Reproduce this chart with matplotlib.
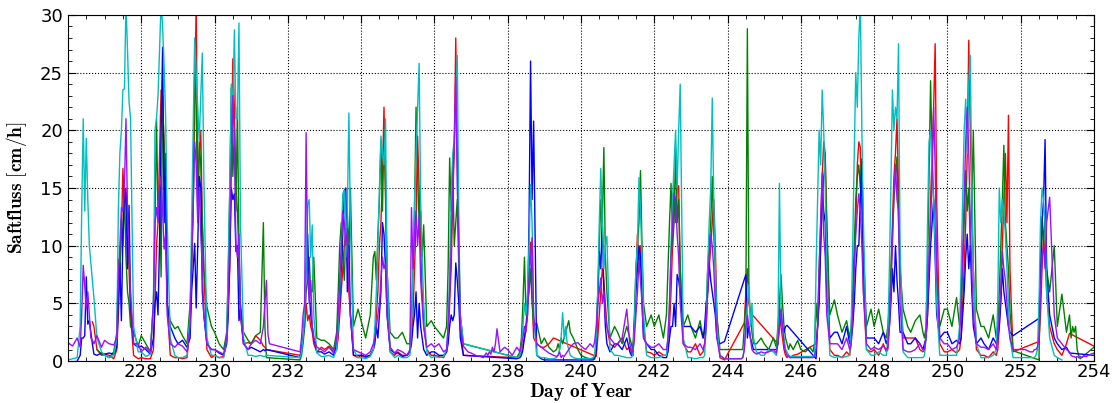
import numpy as np
import matplotlib
matplotlib.use("Agg")
import matplotlib.pyplot as plt
from matplotlib.ticker import MultipleLocator

plt.rcParams['mathtext.fontset'] = 'cm'

_ = None  # missing reading (logger gap)

# sampling hours within each day
HOURS = [0, 3, 6, 8, 9, 10, 11, 12, 13, 14, 15, 16, 17, 19, 22]
DAYS = list(range(226, 255))

# sap flux [cm/h], one row per day of year (226 ... 254)
RED = [
    [_, _, _, _, _, _, _, _, _, _, _, 3.4, 3.0, 1.0, 0.5],
    [0.6, 0.5, 0.2, 1, 4, 8, 11, 16.7, 13, 15, 12, 8, 4, 0.5, 0.2],
    [0.3, 0.2, 0.2, 1, 5, 10, 12, 18, 23.5, 22, 19, 12, 5, 0.5, 0.3],
    [0.3, 0.2, 0.3, 3, 8, 13, 22, 31, 13.5, 18, 20, 12, 8, 1, 0.3],
    [0.5, 0.3, 0.4, 2, 5, 8, 18, 26.2, 22, 15, 13, 9, 4, 1.5, 1.6],
    [1.5, 2.2, 1.8, 1.3, 1.2, 1.0, _, _, _, _, _, _, _, _, _],
    [_, _, _, 0.5, 1, 2, 3, 5, 3.5, 4, 3, 2.5, 1.5, 0.8, 1.2],
    [1, 1.3, 0.8, 1, 2, 4, 6, 8, 10, 11.5, 9, 6, 4, 0.5, 0.3],
    [0.5, 0.3, 0.5, 1, 2, 4, 6, 10, 12, 16, 22, 14, 6, 0.8, 0.5],
    [0.8, 0.5, 0.5, 0.8, 2, 4, 8, 12, 19.5, 15, 10, 6, 3, 1, 0.5],
    [0.5, 0.4, 0.3, 0.8, 2, 5, 8, 14, 18, 28, 18, 10, 3, 0.5, _],
    [_, _, _, _, _, _, _, _, _, _, _, _, _, _, _],
    [_, _, 0.3, 0.5, 0.8, 1.5, 2, 3, 5, 8, 10.3, 6, 2, 1.5, 1.2],
    [1.2, 1.5, 2, _, _, _, _, _, _, _, _, _, _, _, _],
    [_, _, _, _, _, 0.4, 2, 4, 6, 8, 7, 5, 3, 1.5, 1.2],
    [1.5, 2, 1, 1.2, 0.8, 0.5, 3, 7, 11, 8, 10, 6, 3, 0.8, 0.7],
    [0.5, 0.8, 0.5, 0.5, 1, 3, 6, 10, 15.2, 12, 15, 15.2, 8, 1.5, 0.8],
    [0.8, 1.5, 0.5, 0.8, 1.5, 3, 6, 8, 10, 12, 14, 10, 4, 0.3, 0.1],
    [_, _, _, _, _, _, 3.3, 6, 8, 5, 4.2, _, _, _, _],
    [_, _, _, _, 1.5, 5, 3, 2, 1, 0.5, 0.3, 0.5, 0.3, 0.5, 0.6],
    [_, _, _, _, _, 1.5, 3, 8, 12, 16, 19, 18, 12, 1, 0.5],
    [0.5, 0.3, 0.8, 0.5, 1.5, 4, 8, 12, 17, 19, 18.5, 13, 6, 1, 0.8],
    [1, 0.5, 1.5, 0.8, 1, 3, 7, 12, 16, 18, 21, 15, 8, 2, 2],
    [2, 2, 1, 0.8, 1, 2, 4, 8, 14, 18, 22, 27.5, 14, 1.5, 0.8],
    [0.8, 1, 0.7, 1, 2, 5, 8, 12, 18, 27.8, 20, 14, 8, 1, 0.5],
    [0.5, 0.3, 0.8, 0.5, 1, 3, 6, 10, 14, 18, 12, 21.3, 8, 0.8, _],
    [_, _, _, _, _, _, _, 1.7, 4, 8, 11, 9, 6, 3, 1.5],
    [1, 0.5, 1.5, 2.4, _, _, _, _, _, _, _, _, _, _, _],
    [1.3, _, _, _, _, _, _, _, _, _, _, _, _, _, _],
]

GREEN = [
    [_, _, _, _, _, _, _, _, _, _, _, _, _, 1.0, 0.6],
    [0.5, 0.3, 0.8, 2.5, 8.8, 7.5, 12.3, 10, 14.5, 9, 6, 5, 3, 2.5, 1.3],
    [2.2, 1.5, 0.8, 5, 12, 21, 12.5, 14.8, 7.3, 23, 18, 11.7, 5, 3.5, 2.8],
    [3, 2.2, 1.5, 5, 8.4, 15, 25, 22, 12.5, 19, 17, 12, 8, 4.7, 3],
    [2.5, 1.5, 1, 2.5, 8, 15, 23.7, 16, 20, 13, 22, 10, 5, 2.5, 1.8],
    [1.5, 2.2, 2.5, 12, 3, 0.3, _, _, _, _, _, _, _, _, _],
    [_, _, _, 0.1, 0.5, 1.5, 3, 6, 7, 9, 6, 6, 9, 2, 1.8],
    [1.8, 1.5, 1, 2.5, 6, 10, 12, 9, 7, 11, 13, 9, 15, 3, 4.5],
    [3.5, 2, 4, 9, 9.5, 7, 11, 14, 19, 13, 20, 15, 8, 2.5, 2],
    [2, 2.5, 1.5, 1.5, 4, 8, 13, 22, 16, 12, 13, 9, 11.8, 3, 3.5],
    [3, 2.5, 2, 3, 8, 17.6, 13, 17, 10, 12, 14, 8, 4, 1.5, _],
    [_, _, _, _, _, _, _, _, _, _, _, _, _, _, _],
    [_, _, 0.3, 0.8, 2, 5, 9, 4, 5, 6, 8, 5, 3, 3.3, 1.5],
    [2, 1.2, 0.8, 1, 1.5, 1, 2, 1.5, 2, 2.5, 3, 3.5, 2.5, 2, 1],
    [0.5, 0.3, 0.2, 0.2, 0.3, 2, 6, 10, 14, 12, 18.5, 9, 6, 2, 3],
    [2.5, 1.5, 3, 2, 1.5, 1, 4, 8, 10, 12, 16.5, 10, 5, 3, 4],
    [3, 4, 2, 4, 8, 12, 15.4, 10, 12, 18.5, 12, 14, 8, 3, 4],
    [3, 2, 3.5, 2, 2.5, 4, 8, 10, 12, 16, 11, 8, 4, 1, _],
    [_, _, _, _, _, 1, 3, 5, 28.8, 6, 4, 2.5, 1.5, 1.5, 2],
    [1.5, 1, 2, 1.2, 3, 5, 7.5, 5, 3, 2, 1.5, 1, 1.5, 1, 1.8],
    [1, 0.8, 1.2, 0.8, 1.5, 5, 3, 6, 10, 13, 16, 17, 12, 4, 5.3],
    [4, 2.5, 3.5, 2, 3, 6, 10, 14, 16, 17, 15, 17.5, 10, 3, 4.5],
    [3, 4.5, 2.5, 2, 3, 5, 8, 11, 14, 16, 17.7, 12, 8, 4.5, 3],
    [2.5, 3.5, 4, 2.5, 2, 3, 8, 16, 24.3, 18, 14, 11, 8, 3, 4.5],
    [4.5, 3, 5.5, 3, 4, 8, 12, 16.5, 13, 15, 10, 14, 20, 4.5, 3],
    [3, 2, 4, 2, 3, 6, 10, 14, 18.7, 12, 10, 8, 4.3, 0.9, _],
    [_, _, _, _, _, _, _, 0.1, 8, 12.5, 10, 13, 8, 6, 10],
    [3, 5.8, 2.5, 4, 2, 3, 2.5, 3, 1, 0.5, 0.2, _, _, _, _],
    [1.2, _, _, _, _, _, _, _, _, _, _, _, _, _, _],
]

BLUE = [
    [_, _, 0, 0.5, 2, 2, 2.2, 7.3, 3.2, 3.5, 2.5, 1.5, 0.6, 0.5, 0.7],
    [0.6, 0.7, 0.6, 1.2, 5, 8.5, 3.5, 11, 15, 14.5, 8, 13.5, 5, 1.5, 1.2],
    [1.3, 1, 0.6, 2, 5, 6, 4, 10.5, 20, 27.2, 12, 18, 5, 3, 2],
    [1.5, 1.8, 1.2, 2, 6, 8, 10.2, 4.6, 10, 16, 15, 6, 4, 1.5, 1],
    [1, 0.7, 0.5, 1.5, 4, 9, 15, 14, 14.5, 9.5, 10, 3.5, 4.5, 1.5, 1],
    [1.2, 1, 0.8, 1, 0.9, 1, _, _, _, _, _, _, _, _, _],
    [_, _, _, 0.3, 1, 2, 4, 8, 11, 6, 4, 3, 2, 0.8, 0.8],
    [0.6, 0.8, 0.5, 1.5, 3, 5, 8, 11, 14.8, 15, 6, 10, 4, 0.5, 0.5],
    [0.5, 0.4, 0.5, 1, 1.5, 3, 2, 4, 6, 12, 11, 8, 4, 1, 0.7],
    [0.7, 0.4, 0.5, 0.8, 1.5, 3, 4, 6, 2, 5, 3, 2, 1, 0.5, 0.8],
    [0.8, 0.5, 0.5, 0.8, 1.5, 3, 4, 3.5, 4, 8.5, 7, 5, 2, 0.5, _],
    [_, _, _, _, _, _, _, _, _, _, _, _, _, _, _],
    [_, _, 0.2, 0.3, 0.5, 1, 2, 3, 4, 12, 26, 14, 20.8, 0.5, 0.2],
    [0.1, 0.1, 0.1, 0.1, 0.1, 0.1, 0.1, 0.1, 0.1, 0.1, 0.1, 0.1, 0.1, 0.1, 0.1],
    [0.1, 0.1, 0.1, 0.1, 0.2, 1, 5, 9.5, 8, 12.5, 6, 3, 1.5, 0.8, 1.5],
    [1.5, 1, 2, 0.8, 0.5, 0.5, 3, 6, 8, 10, 9, 5, 2, 1.5, 1],
    [1, 0.5, 0.3, 0.3, 0.8, 2, 3, 3, 5, 3, 7.5, 7, 6, 3, 3],
    [3, 2.5, 3, 2, 3, 5, 6, 8.5, 7, 6, 5, 4, 2, 1.5, 1.7],
    [_, _, _, _, _, _, _, 7.5, 2, 3, 2, 1.5, 1, 1, 1],
    [1, 1, 1, 1, 1.5, 3, 4, 3, 2.5, 3, 3.1, _, _, _, _],
    [_, _, _, _, _, 0.2, 3, 5, 10, 15, 13, 12, 6, 2, 2.5],
    [2.5, 1.5, 3, 1.5, 2, 3, 5, 8, 10, 10, 14, 17.5, 8, 2, 2],
    [2, 1.5, 2.5, 1.5, 2, 3, 5, 8, 6, 10, 7, 5, 2.5, 2.5, 1.5],
    [1.5, 2, 1.5, 1, 1.5, 2, 4, 7, 10, 12, 14, 9, 4, 2, 2.5],
    [2.5, 1.5, 1.8, 1.5, 2, 4, 6, 9, 11, 8, 10, 6, 3, 1.5, 2],
    [1.5, 1, 2, 1.5, 2, 3, 5, 8, 6, 5, 4, 3, 2.5, 2.2, _],
    [_, _, _, _, _, _, _, 3.7, 8, 12, 14, 19.2, 8, 4, 2],
    [1.5, 1, 1.2, 0.7, _, _, _, _, _, _, _, _, _, _, _],
    [0.5, _, _, _, _, _, _, _, _, _, _, _, _, _, _],
]

CYAN = [
    [0.1, 0.2, 0.3, 3, 13, 21, 13, 19.3, 14, 10, 8.5, 7, 5.5, 2, 0.8],
    [0.5, 0.3, 0.5, 2, 13, 18, 20, 23.5, 23.6, 31, 27, 22.5, 21, 3, 0.8],
    [0.8, 0.4, 0.6, 5, 20, 21, 23, 27, 31, 29, 25.5, 21, 12, 2, 0.5],
    [0.3, 0.3, 0.5, 4, 12, 20, 28, 25, 22, 19, 23, 26.7, 16, 2, 0.5],
    [0.5, 0.3, 0.3, 2, 8, 15, 24, 22, 28.7, 21, 21, 29.3, 12, 2, 0.5],
    [0.5, 0.4, 0.5, 0.4, 0.4, 0.5, _, _, _, _, _, _, _, _, _],
    [_, _, _, 0.3, 0.8, 2, 4, 8, 13.5, 14, 9, 11.8, 4, 0.7, 0.4],
    [0.4, 0.5, 0.3, 1, 3, 6, 10, 14.5, 14.8, 9, 13, 21.5, 12, 1, 0.3],
    [0.3, 0.2, 0.4, 1, 3, 6, 10, 15, 19.5, 18, 17, 21, 8, 0.8, 0.3],
    [0.5, 0.3, 0.3, 0.5, 3, 8, 14, 18, 22, 25.8, 14, 9, 5, 0.8, 0.3],
    [0.4, 0.3, 0.4, 1, 3, 8, 14, 18, 19, 22, 26.5, 12, 4, 1.5, _],
    [_, _, _, _, _, _, _, _, _, _, _, _, _, _, _],
    [_, _, 0.3, 0.5, 1, 3, 5, 4, 6, 10, 15.3, 12, 4, 0.5, 0.3],
    [0.3, 0.2, 0.2, 0.3, 0.5, 1, 2, 4.2, 2, 3, 1.5, 1, 0.5, 0.3, 0.2],
    [0.2, 0.2, 0.2, 0.3, 0.5, 2, 6, 12, 16.7, 12, 8, 10, 10.8, 1, 0.5],
    [0.5, 0.4, 0.3, 0.3, 0.3, 0.5, 3, 8, 10, 15.9, 13, 9, 4, 0.5, 0.3],
    [0.3, 0.3, 0.5, 0.5, 2, 5, 10, 14, 17, 20, 15, 20, 24, 2, 0.3],
    [0.3, 0.2, 0.3, 0.3, 0.5, 3, 8, 12, 15, 22.8, 14, 8, 3, 0.5, 0.2],
    [0.2, 0.2, 0.2, 0.2, 0.2, 0.3, 1, 3, 5, 6.6, 3, 5, 2, 0.8, 0.5],
    [0.5, 1, 0.8, 0.5, 2, 15.4, 5, 3, 2, 1, 0.8, 0.5, 0.4, 0.4, 0.4],
    [0.4, 0.4, 0.4, 0.4, 0.5, 8, 14, 20, 17, 23.5, 20, 15, 8, 0.5, 0.3],
    [0.4, 0.3, 0.4, 0.5, 3, 10, 18, 25, 22, 28, 31, 20, 12, 1, 0.5],
    [0.5, 0.8, 0.5, 0.5, 2, 8, 15, 23.5, 20, 22, 21, 27.5, 10, 0.8, 0.3],
    [0.3, 0.3, 0.3, 0.3, 0.5, 2, 12, 19, 20, 16, 14, 10, 5, 0.5, 0.5],
    [0.5, 0.5, 0.5, 3, 8, 14, 20, 22.7, 18, 24, 26.5, 15, 8, 1.5, 0.3],
    [0.3, 0.3, 0.5, 1, 5, 15, 12, 14, 13, 11, 8, 5, 2, 0.3, 0.3],
    [0.3, 0.3, 0.3, 0.3, 0.3, 0.5, 1, 5, 12, 15, 14, 12, 6, 2, 0.5],
    [0.3, 0.1, _, _, _, _, _, _, _, _, _, _, _, _, _],
    [_, _, _, _, _, _, _, _, _, _, _, _, _, _, _],
]

PURPLE = [
    [1.6, 1.3, 2.0, 1.2, 4, 8.3, 6.5, 4.5, 6, 4, 2, 1.8, 1.5, 2.2, 1.2],
    [1.8, 1.5, 1.4, 2, 7, 10, 13.3, 13, 15, 21, 13, 9.5, 6, 1.5, 1.5],
    [0.8, 1.2, 0.8, 5.2, 12, 13.3, 12, 15, 16, 13, 9.7, 11, 4, 1.5, 1.2],
    [1.5, 1.3, 0.8, 3, 9, 13, 19, 17, 12, 15, 11, 8, 4, 1.5, 1],
    [1, 0.8, 0.6, 2, 5, 11, 17, 23, 19, 10, 9, 11, 4, 1.5, 1],
    [1.5, 1.8, 1.5, 3, 5, 7, 2.3, 1.5, _, _, _, _, _, _, _],
    [_, _, _, 0.8, 2, 4, 5, 19.8, 8, 5, 7, 3, 2, 1.2, 1],
    [0.8, 1.2, 0.7, 2, 4, 7, 10, 13, 12, 10, 11.5, 7, 4, 1, 0.8],
    [0.7, 0.5, 0.8, 1.5, 2, 3, 4, 5, 7, 9, 8, 8.5, 4, 1.2, 0.7],
    [1, 0.8, 0.5, 1, 13.3, 8, 11, 13, 10, 12.5, 7, 5, 3, 1.2, 1.5],
    [1.2, 1.5, 0.8, 1, 3, 6, 10, 15, 19, 24.6, 15, 10, 3, 1.3, 0.8],
    [0.7, 0.5, 0.4, 0.3, 0.5, 0.7, 0.5, 0.8, 0.6, 1.2, 0.8, 1.5, 2.8, 0.8, 1.2],
    [1, 0.5, 1.2, 0.8, 1.5, 2, 3, 2.5, 4, 7, 9, 10.7, 4, 1.5, 1.2],
    [1, 0.7, 0.5, 0.4, 0.5, 0.8, 0.3, 0.5, 0.4, 0.6, 0.8, 1, 1.2, 1.5, 1.6],
    [1.3, 1, 1.5, 1.2, 1.7, 3, 5, 6, 7.2, 5, 6, 4, 3, 2, 1.5],
    [1.5, 2, 4.5, 1.5, 1, 0.8, 2, 4, 6, 8.7, 7, 5, 2, 1.5, 1.2],
    [1.2, 1.5, 1, 1, 2, 5, 9, 12, 14.5, 14, 11, 9, 5, 1.5, 1.2],
    [1.2, 1, 1.5, 1, 1.5, 3, 6, 9, 11, 10, 8, 5, 2, 0.5, 0.2],
    [0.2, 0.2, 0.2, 0.2, 0.2, 0.3, 1, 3, 4, 3, 2, 1, 0.8, 0.6, 0.8],
    [0.7, 0.8, 1, 0.7, 1.5, 3, 4.5, 3, 1.5, 0.8, 0.5, 0.4, 0.3, 0.3, 0.3],
    [0.3, 0.3, 0.3, 0.3, 0.4, 1, 3, 8, 12, 16.3, 11, 9, 4, 1.5, 1.5],
    [1.5, 1, 2, 1, 1.5, 4, 8, 11, 13, 14.5, 13, 10, 6, 1.5, 1],
    [1.2, 1, 1.3, 1, 1.2, 3, 6, 10, 14.5, 17, 14, 13, 5, 1, 0.8],
    [0.8, 1, 1.5, 1, 1, 2, 5, 9, 12, 16, 22, 17, 8, 2, 1.5],
    [1.5, 1, 1.2, 2, 5, 9, 14, 19, 22, 18, 12, 8, 4, 1.5, 1.2],
    [1.2, 1, 1.5, 1, 2, 4, 6, 9.5, 8, 7, 5, 3, 2, 1, 1],
    [1, 1, 0.8, 0.8, 1, 1, 1.2, 2, 6, 9, 10, 8, 12, 14.2, 4],
    [2, 1.5, 1, 0.8, 0.5, 0.4, 0.4, 0.3, 0.4, 0.3, 0.4, 0.3, 0.4, 0.4, 0.6],
    [0.7, _, _, _, _, _, _, _, _, _, _, _, _, _, _],
]


def to_series(rows):
    """Flatten daily rows into (time, value), dropping missing readings."""
    t = np.array([d + h / 24.0 for d in DAYS for h in HOURS])
    v = np.array([np.nan if x is None else x for row in rows for x in row], dtype=float)
    ok = ~np.isnan(v)
    return t[ok], v[ok]


fig = plt.figure(figsize=(11.14, 4.03), dpi=100)
ax = fig.add_axes([0.061, 0.104, 0.921, 0.859])

for rows, col in [(RED, '#ff0000'), (GREEN, '#008000'), (BLUE, '#0000ff'),
                  (CYAN, '#00bfbf'), (PURPLE, '#9a10ff')]:
    t, v = to_series(rows)
    ax.plot(t, v, color=col, linewidth=1.0)

ax.set_xlim(226, 254)
ax.set_ylim(0, 30)
ax.set_xticks(np.arange(228, 255, 2))
ax.set_yticks(np.arange(0, 31, 5))
ax.xaxis.set_minor_locator(MultipleLocator(0.5))
ax.yaxis.set_minor_locator(MultipleLocator(1))
ax.tick_params(which='both', direction='in', top=True, right=True, labelsize=13)
ax.tick_params(which='major', length=6)
ax.tick_params(which='minor', length=3)
ax.tick_params(axis='x', pad=1.5)
ax.grid(True, which='major', color='k', linestyle=':', linewidth=0.8)

ax.set_xlabel(r'$\mathbf{Day\ of\ Year}$', fontsize=14, labelpad=0)
ax.set_ylabel(r'$\mathbf{Saftfluss\ [cm/h]}$', fontsize=14, labelpad=8)

fig.savefig('out.png', dpi=100)
